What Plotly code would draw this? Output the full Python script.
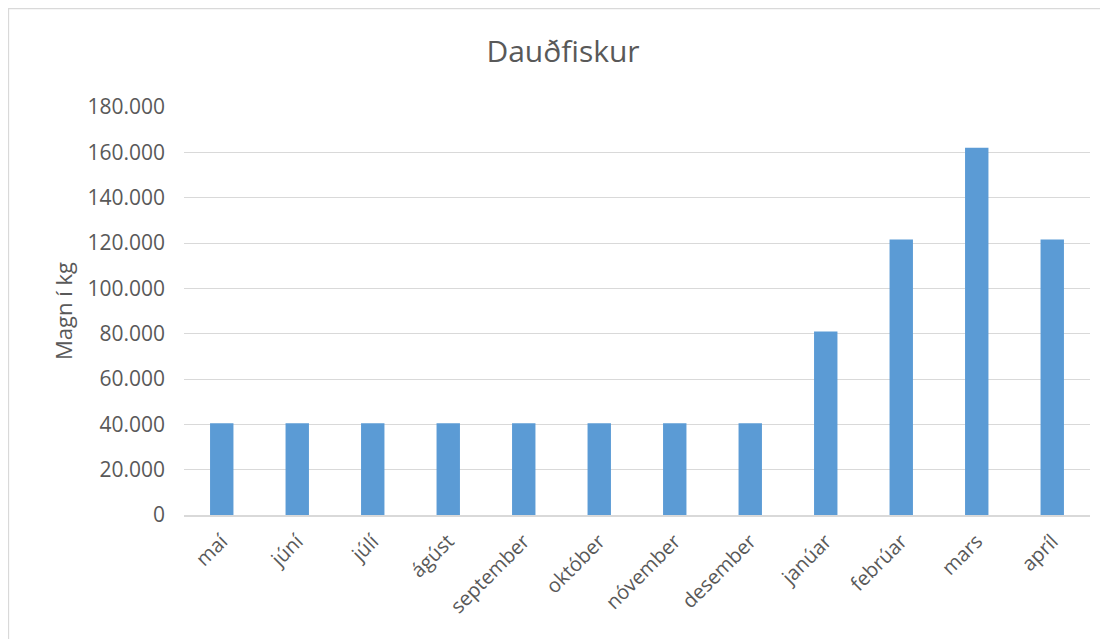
import plotly.graph_objects as go

months = ["maí", "júní", "júlí", "ágúst", "september", "október", "nóvember",
          "desember", "janúar", "febrúar", "mars", "apríl"]
values = [40500, 40500, 40500, 40500, 40500, 40500, 40500, 40500,
          81000, 121500, 162000, 121500]
y_ticks = [0, 20000, 40000, 60000, 80000, 100000, 120000, 140000, 160000, 180000]

# page body has an 8px margin, so figure coords = screen coords - 8
OFF = 8
W, H = 1108, 639
L, T = 184 - OFF, 107 - OFF
R = W - (1090 - OFF)
B = H - (515.5 - OFF)
pw = W - L - R
ph = H - T - B

fig = go.Figure(go.Bar(x=months, y=values, marker=dict(color="#5B9BD5", line=dict(width=0)),
                       width=0.31))

font_fam = "Open Sans, Noto Sans, sans-serif"
fig.update_layout(
    width=W, height=H,
    margin=dict(l=L, r=R, t=T, b=B),
    paper_bgcolor="white", plot_bgcolor="white",
    separators=",.",
    font=dict(family=font_fam, color="#595959", size=20),
    title=dict(text="Dauðfiskur", x=(563 - OFF - L) / pw, xref="paper", xanchor="center",
               y=1 - (51 - OFF) / H, yanchor="middle",
               font=dict(size=30, color="#595959", family=font_fam)),
    showlegend=False,
    xaxis=dict(tickangle=-45, showgrid=False, showline=True, linecolor="#D9D9D9",
               linewidth=1.5, ticks="", ticklabelstandoff=5,
               tickfont=dict(size=20, color="#595959")),
    yaxis=dict(range=[0, 180000], tickvals=y_ticks, tickformat=",d",
               showgrid=True, gridcolor="#D9D9D9", gridwidth=1.3, zeroline=False,
               showline=False, ticks="", ticklabelstandoff=18,
               tickfont=dict(size=21, color="#595959"),
               title=dict(text="Magn í kg", font=dict(size=22, color="#595959"), standoff=8)),
)

fig.add_shape(type="rect", xref="paper", yref="paper",
              x0=(8.5 - OFF - L) / pw, x1=(W + 20 - L) / pw,
              y0=-(B + 20) / ph, y1=1 + (T - (8.5 - OFF)) / ph,
              line=dict(color="#D9D9D9", width=1.3), fillcolor="rgba(0,0,0,0)", layer="below")

fig.write_html("out.html")
